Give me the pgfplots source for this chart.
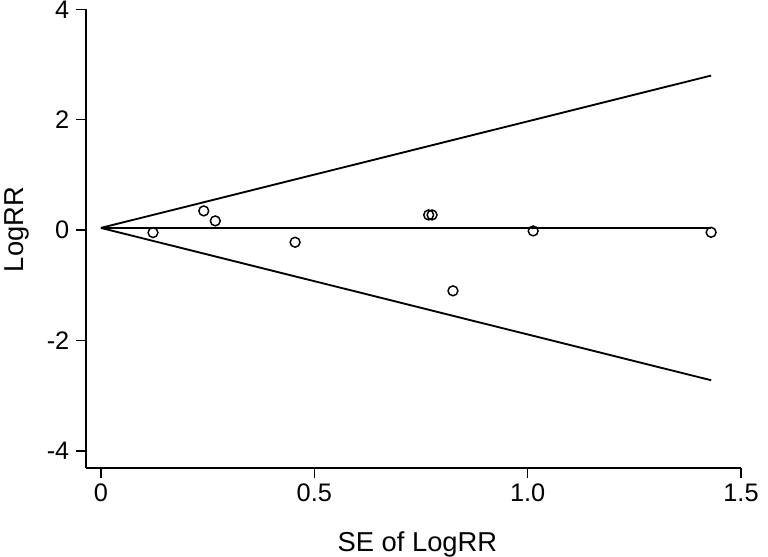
\documentclass[border=0pt]{standalone}
\usepackage{fontspec}
\setmainfont{Liberation Sans}
\usepackage{pgfplots}
\pgfplotsset{compat=1.18}

\begin{document}
\begin{tikzpicture}
% page frame, in pt (1 px of the reference = 0.75pt)
\useasboundingbox (-64.5pt,-66.75pt) rectangle (511.5pt,351pt);
\begin{axis}[
    at={(0,0)}, anchor=south west,
    scale only axis,
    width=491.25pt, height=344pt,
    xmin=-0.035, xmax=1.5,
    ymin=-4.31, ymax=4,
    axis x line*=bottom, axis y line*=left,
    axis line style={line width=1.1pt},
    xtick={0,0.5,1,1.5}, xticklabels={0,0.5,1.0,1.5},
    ytick={-4,-2,0,2,4},
    tick align=outside, major tick length=7.5pt,
    tick style={line width=1.1pt, black},
    /pgf/number format/assume math mode=true,
    ticklabel style={font=\fontsize{19}{21}\selectfont},
    xticklabel style={anchor=north, yshift=-1pt},
    yticklabel style={anchor=east, xshift=-1.5pt},
    xlabel={SE of LogRR},
    ylabel={LogRR},
    label style={font=\fontsize{20.5}{22}\selectfont},
    xlabel style={at={(axis description cs:0.506,0)}, anchor=base, yshift=-62.8pt},
    ylabel style={at={(axis description cs:0,0.52)}, anchor=base, yshift=47pt},
    clip=false,
]
% pooled estimate and pseudo 95% limits
\addplot[black, line width=1.4pt] coordinates {(0,0.04) (1.43,2.80)};
\addplot[black, line width=1.4pt] coordinates {(0,0.04) (1.43,-2.72)};
\addplot[black, line width=1.4pt] coordinates {(0,0.04) (1.43,0.04)};
% studies
\addplot[only marks, mark=o, mark size=3.7pt, mark options={line width=1.1pt, black}] coordinates {
    (0.122,-0.045) (0.241,0.348) (0.268,0.167) (0.455,-0.22)
    (0.768,0.275) (0.776,0.275) (0.825,-1.10) (1.013,-0.015) (1.43,-0.04)
};
\end{axis}
\end{tikzpicture}
\end{document}
